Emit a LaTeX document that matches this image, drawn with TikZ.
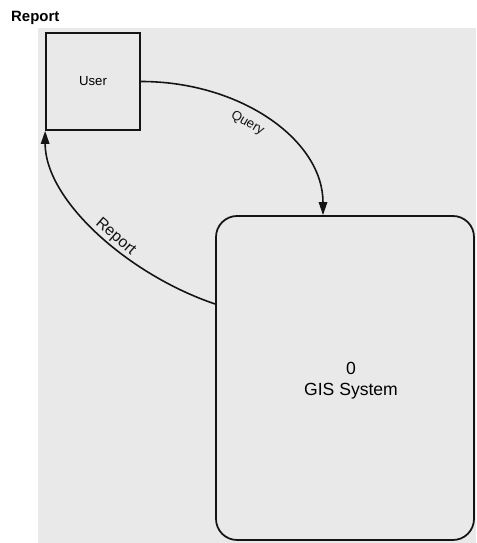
\documentclass[tikz,border=0pt]{standalone}
\usepackage{fontspec}
\setmainfont{Liberation Sans}
\usepackage{xcolor}
\usepackage{tikz}
\usetikzlibrary{arrows.meta, positioning, calc}
\definecolor{inkdark}{RGB}{20,20,20}
\definecolor{paper}{RGB}{233,233,233}
\tikzset{
  entity/.style={rectangle, draw=inkdark, fill=paper, minimum width=1.88cm, minimum height=1.94cm, font=\fontsize{7.5}{9}\selectfont, line width=1pt},
  process/.style={rectangle, draw=inkdark, fill=paper, minimum width=5.16cm, minimum height=6.48cm, align=center, font=\fontsize{10}{12}\selectfont, rounded corners=12pt, line width=1pt},
  flow/.style={-{Triangle[length=2.6mm,width=1.7mm]}, line width=0.9pt, color=inkdark},
  flowlabel/.style={sloped, inner sep=1.5pt, text=inkdark}
}

\begin{document}
\begin{tikzpicture}
  \useasboundingbox (0,0) rectangle (9.52,10.86);
  % Paper
  \fill[paper] (0.76,0) rectangle (9.52,10.3);

  % Title
  \node[anchor=west, font=\fontsize{8.5}{10}\selectfont\bfseries] (title) at (0.1,10.5) {Report};

  % Entities
  \node[entity] (user) at (1.86,9.23) {User};
  \node[process] (gis) at (6.9,3.30) {};
  \node[align=center, font=\fontsize{10}{12}\selectfont] (gistext) at ([xshift=1.2mm,yshift=-0.5mm]gis.center) {0\\GIS System};

  % Flows
  \draw[flow] (user.east) .. controls +(2.0,0) and +(0,1.5) .. ([xshift=-4.4mm]gis.north)
    node[flowlabel, pos=0.43, below, inner sep=4.5pt, font=\fontsize{7.5}{9}\selectfont] (query) {Query};
  \draw[flow] ([yshift=1.48cm]gis.west) .. controls +(-1.72,0.58) and +(0,-1.4) .. (user.south west)
    node[flowlabel, pos=0.44, above, inner sep=0.5pt, font=\fontsize{9}{10}\selectfont] (report) {Report};
\end{tikzpicture}
\end{document}
